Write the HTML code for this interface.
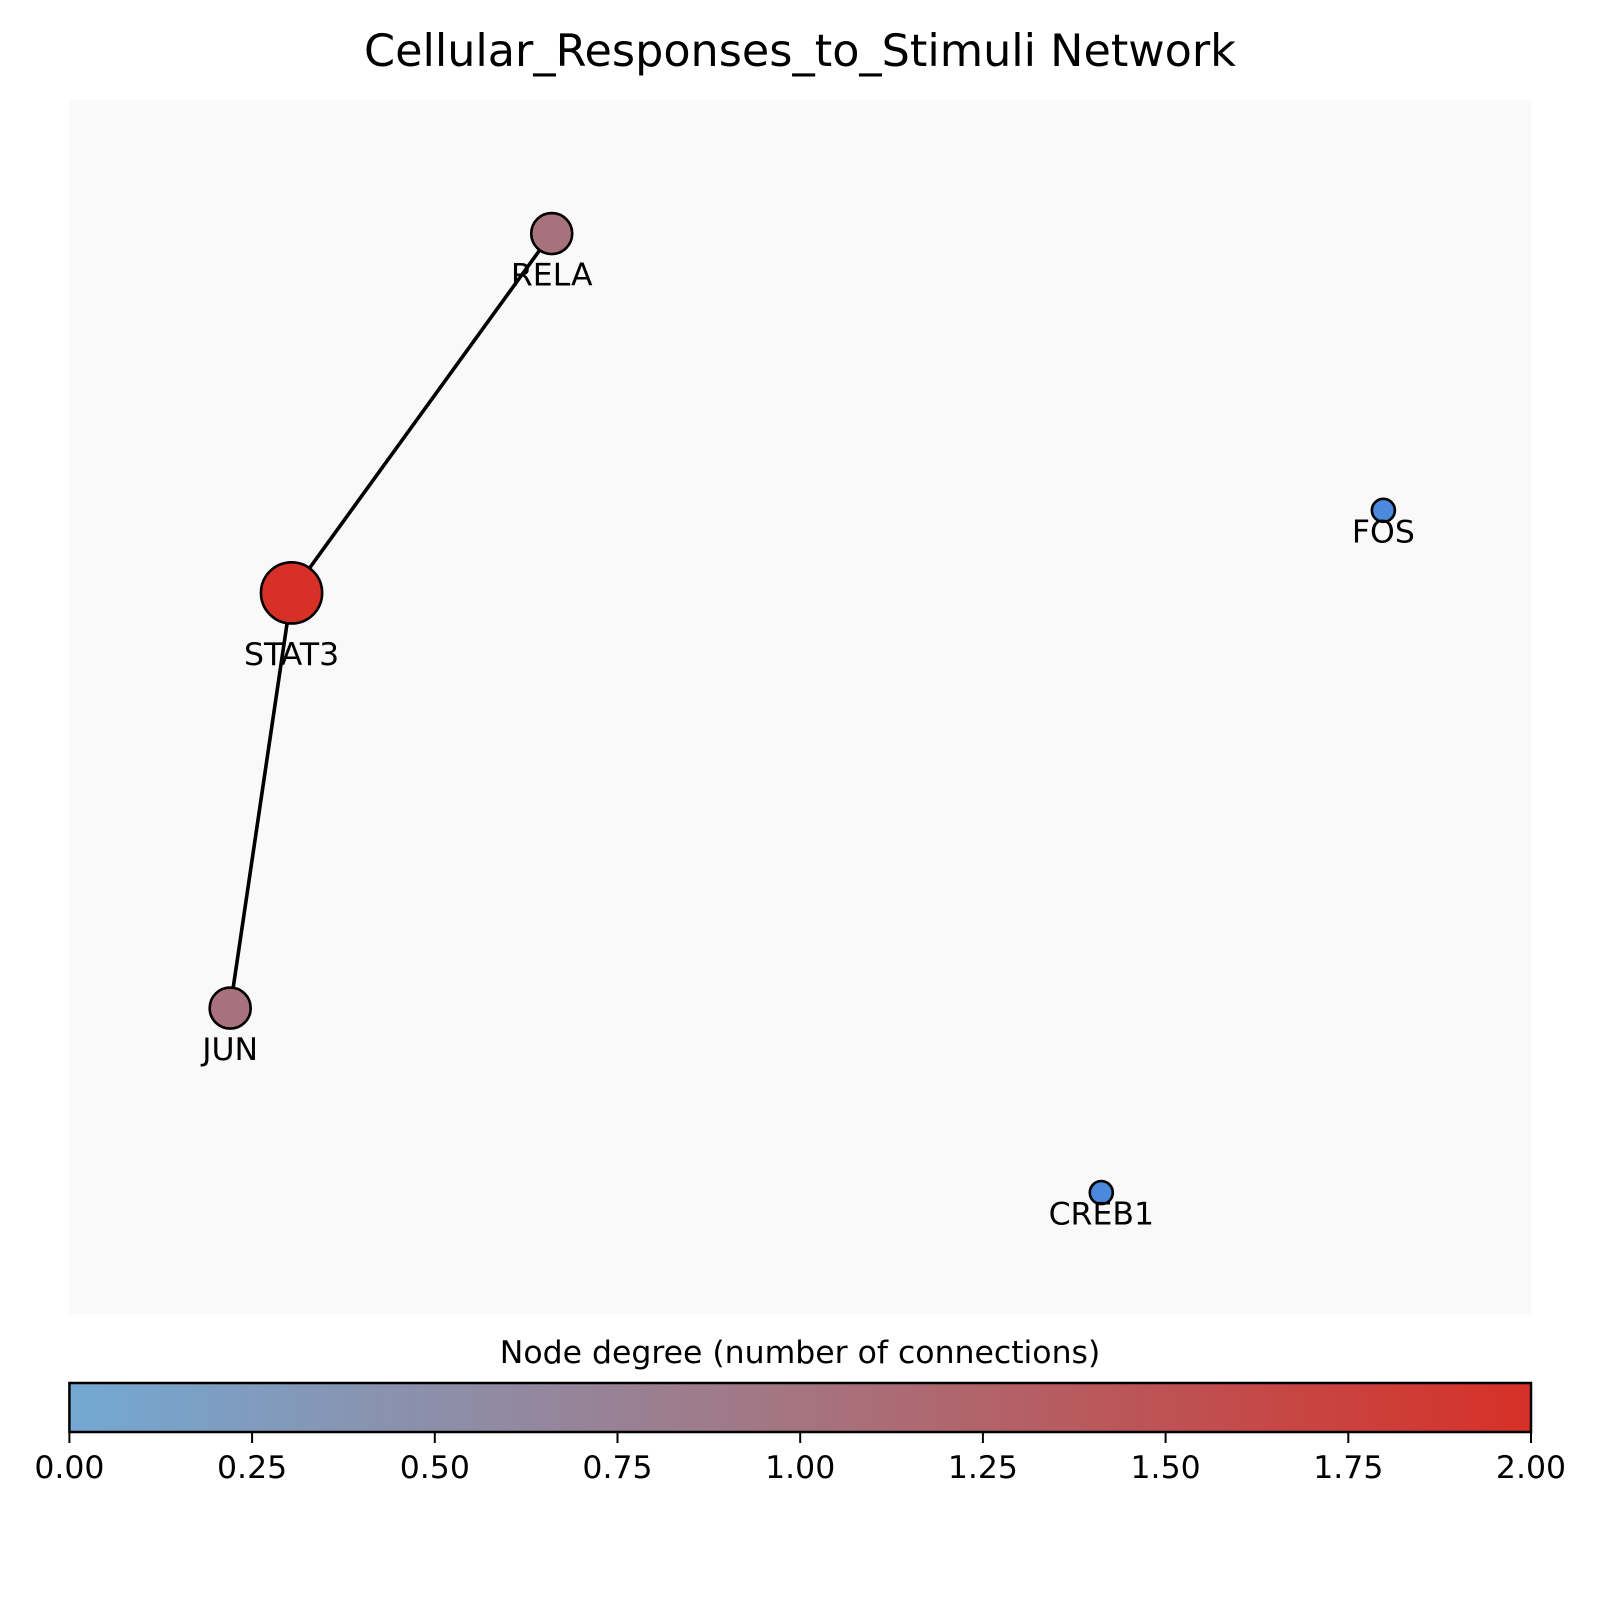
<!DOCTYPE html>
<html><head><meta charset="utf-8"><style>
html,body{margin:0;padding:0;background:#fff;}
svg{display:block;font-family:"Liberation Sans","DejaVu Sans",sans-serif;}
</style></head><body>
<svg id="chart" width="1600" height="1600" viewBox="0 0 1600 1600" xmlns="http://www.w3.org/2000/svg">
<defs>
<linearGradient id="cmap" x1="0" x2="1" y1="0" y2="0">
<stop offset="0" stop-color="#73a9d3"/>
<stop offset="0.5" stop-color="#a57480"/>
<stop offset="1" stop-color="#d73027"/>
</linearGradient>
</defs>
<text x="800" y="54" text-anchor="middle" dominant-baseline="middle" font-size="44.5" fill="#000" font-family="DejaVu Sans, sans-serif">Cellular_Responses_to_Stimuli Network</text>
<rect x="69.4" y="100" width="1461.6" height="1214" fill="#f9f9f9"/>
<g id="edges"></g>
<g id="nodes"></g>
<text x="800" y="1354" text-anchor="middle" dominant-baseline="middle" font-size="31.5" font-family="DejaVu Sans, sans-serif">Node degree (number of connections)</text>
<rect x="69.4" y="1383" width="1461.6" height="49" fill="url(#cmap)" stroke="#000" stroke-width="2.5"/>
<g id="ticks"></g>
</svg>
<script>
const nodeNames = ["RELA","STAT3","JUN","FOS","CREB1"];
const nodeX = [0.330, 0.152, 0.110, 0.899, 0.706];
const nodeY = [0.890, 0.594, 0.252, 0.662, 0.100];
const nodeDegree = [1, 2, 1, 0, 0];
const edgeFrom = ["STAT3","STAT3"];
const edgeTo = ["RELA","JUN"];
const tickValues = [0,0.25,0.5,0.75,1,1.25,1.5,1.75,2];
const tickLabels = ["0.00","0.25","0.50","0.75","1.00","1.25","1.50","1.75","2.00"];

const NS="http://www.w3.org/2000/svg";
const px0=69.4, pw=1461.6, py0=100, ph=1214;
const sx=v=>px0+v*pw, sy=v=>py0+(1-v)*ph;
const cx=v=>px0+(v/2)*pw;
const radius=d=>d===2?30.6:(d===1?20.5:11.5);
const nodeColor=d=>d===2?"#d73027":(d===1?"#a8727d":"#4a89dc");
function mk(t,a){const e=document.createElementNS(NS,t);for(const k in a)e.setAttribute(k,a[k]);return e;}
const eg=document.getElementById("edges"), ng=document.getElementById("nodes"), tg=document.getElementById("ticks");
edgeFrom.forEach((f,i)=>{
  const a=nodeNames.indexOf(f), b=nodeNames.indexOf(edgeTo[i]);
  const l=mk("line",{x1:sx(nodeX[a]),y1:sy(nodeY[a]),x2:sx(nodeX[b]),y2:sy(nodeY[b]),stroke:"#000","stroke-width":3.6});
  
  
  eg.appendChild(l);
});
nodeNames.forEach((n,i)=>{
  const x=sx(nodeX[i]), y=sy(nodeY[i]), r=radius(nodeDegree[i]);
  const c=mk("circle",{cx:x,cy:y,r:r,fill:nodeColor(nodeDegree[i]),stroke:"#000","stroke-width":2.6});
  
  
  ng.appendChild(c);
});
nodeNames.forEach((n,i)=>{
  const x=sx(nodeX[i]), y=sy(nodeY[i]);
  const off=nodeDegree[i]===2?63:(nodeDegree[i]===1?43:23);
  const t=mk("text",{x:x,y:y+off,"text-anchor":"middle","dominant-baseline":"middle","font-size":31.5,"font-family":"DejaVu Sans, sans-serif"});
  t.textContent=n;
  
  
  ng.appendChild(t);
});
tickValues.forEach((v,i)=>{
  const x=cx(v);
  const l=mk("line",{x1:x,y1:1432,x2:x,y2:1443,stroke:"#000","stroke-width":2});
  
  
  tg.appendChild(l);
  const t=mk("text",{x:x,y:1469,"text-anchor":"middle","dominant-baseline":"middle","font-size":31.5,"font-family":"DejaVu Sans, sans-serif"});
  t.textContent=tickLabels[i];
  
  
  tg.appendChild(t);
});
</script>
</body></html>
